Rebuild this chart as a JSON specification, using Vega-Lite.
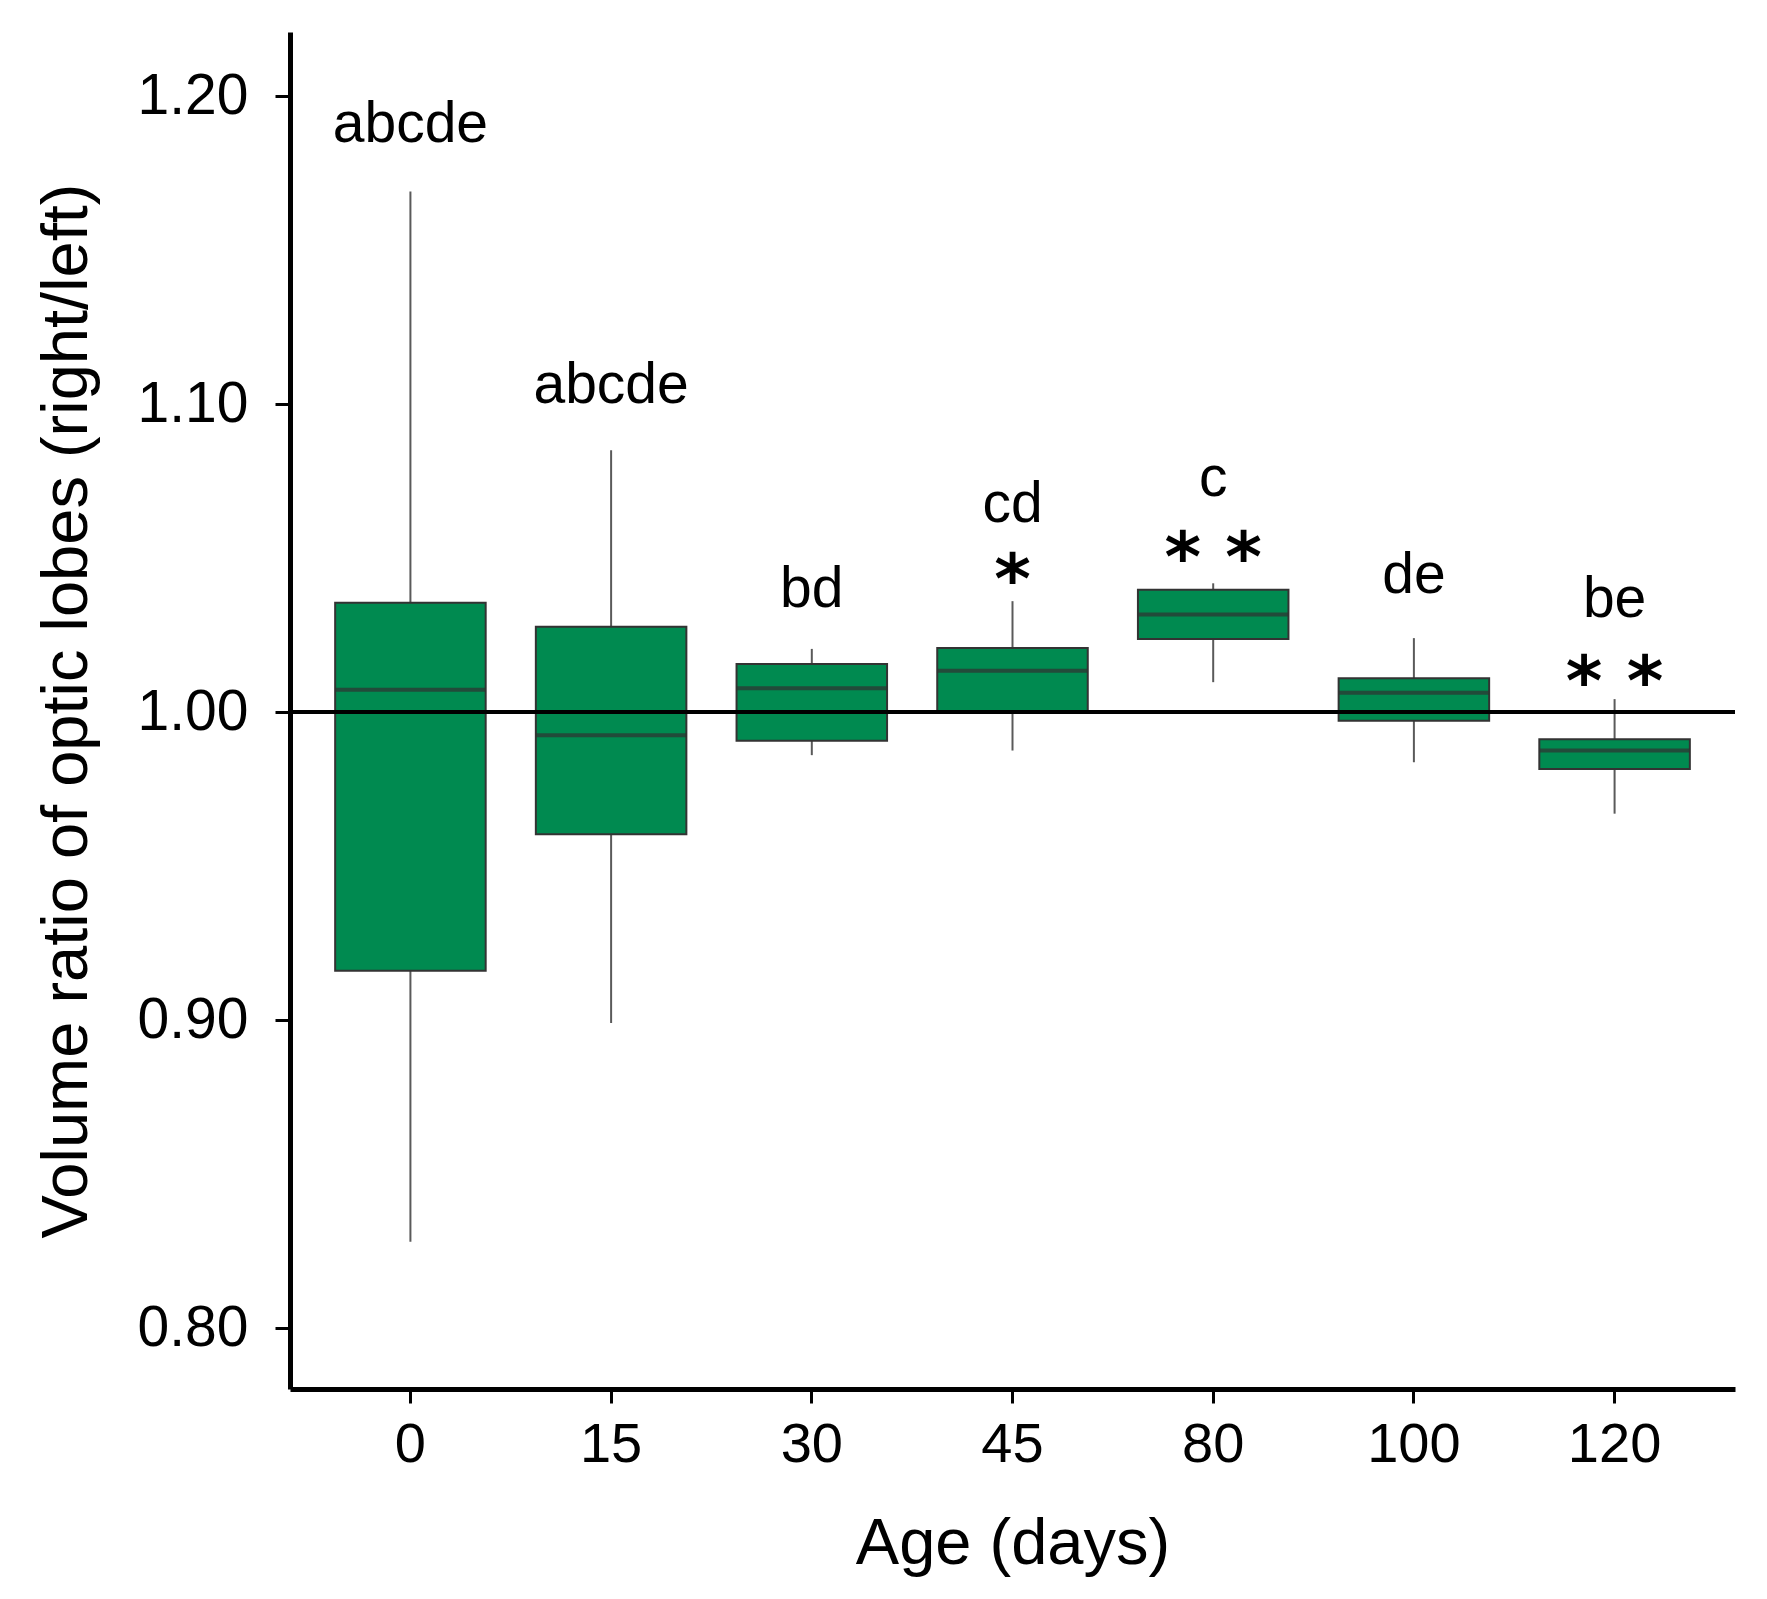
{
  "$schema": "https://vega.github.io/schema/vega-lite/v6.json",
  "width": 1445,
  "height": 1357,
  "autosize": {"type": "none"},
  "padding": {"left": 290, "top": 32, "right": 32, "bottom": 210},
  "background": "white",
  "config": {
    "view": {"stroke": null},
    "font": "Liberation Sans",
    "axis": {"grid": false, "domainColor": "black", "tickColor": "black", "labelColor": "black", "titleColor": "black", "labelFont": "Liberation Sans", "titleFont": "Liberation Sans", "titleFontWeight": "normal"}
  },
  "data": {
    "values": [
      {"age": "0", "ymin": 0.828, "lower": 0.916, "median": 1.0072, "upper": 1.0355, "ymax": 1.169, "letters": "abcde", "ly": 1.1851, "stars": "", "sy": null},
      {"age": "15", "ymin": 0.899, "lower": 0.9603, "median": 0.9925, "upper": 1.0277, "ymax": 1.085, "letters": "abcde", "ly": 1.1005, "stars": "", "sy": null},
      {"age": "30", "ymin": 0.986, "lower": 0.9907, "median": 1.0077, "upper": 1.0156, "ymax": 1.0205, "letters": "bd", "ly": 1.034, "stars": "", "sy": null},
      {"age": "45", "ymin": 0.9875, "lower": 1.0003, "median": 1.0134, "upper": 1.0208, "ymax": 1.036, "letters": "cd", "ly": 1.0617, "stars": "*", "sy": 1.0353},
      {"age": "80", "ymin": 1.0097, "lower": 1.0237, "median": 1.0317, "upper": 1.0397, "ymax": 1.0418, "letters": "c", "ly": 1.0703, "stars": "* *", "sy": 1.0426},
      {"age": "100", "ymin": 0.9837, "lower": 0.9972, "median": 1.0063, "upper": 1.011, "ymax": 1.024, "letters": "de", "ly": 1.0387, "stars": "", "sy": null},
      {"age": "120", "ymin": 0.967, "lower": 0.9815, "median": 0.9875, "upper": 0.9912, "ymax": 1.0042, "letters": "be", "ly": 1.031, "stars": "* *", "sy": 1.0023}
    ]
  },
  "encoding": {
    "x": {
      "field": "age", "type": "ordinal", "sort": null,
      "scale": {"paddingInner": 0, "paddingOuter": 0.1},
      "axis": {"title": "Age (days)", "labelAngle": 0, "labelFontSize": 56, "titleFontSize": 65, "tickSize": 14, "tickWidth": 3, "domainWidth": 5, "labelPadding": 14, "titlePadding": 40}
    }
  },
  "layer": [
    {
      "mark": {"type": "rule", "color": "#5a5a5a", "strokeWidth": 2},
      "encoding": {
        "y": {"field": "ymin", "type": "quantitative", "scale": {"domain": [0.7802, 1.2208], "nice": false, "zero": false},
          "axis": {"title": "Volume ratio of optic lobes (right/left)", "values": [0.8, 0.9, 1.0, 1.1, 1.2], "format": ".2f", "labelFontSize": 57, "titleFontSize": 65, "tickSize": 15, "tickWidth": 3, "domainWidth": 5, "labelPadding": 27, "titlePadding": 37}},
        "y2": {"field": "ymax"}
      }
    },
    {
      "mark": {"type": "bar", "fill": "#008a50", "stroke": "#333333", "strokeWidth": 2, "width": {"band": 0.75}},
      "encoding": {
        "y": {"field": "lower", "type": "quantitative"},
        "y2": {"field": "upper"}
      }
    },
    {
      "mark": {"type": "tick", "color": "#303030", "thickness": 4, "size": 150},
      "encoding": {
        "y": {"field": "median", "type": "quantitative"}
      }
    },
    {
      "mark": {"type": "rule", "color": "black", "strokeWidth": 3.5},
      "encoding": {"y": {"datum": 1.0}, "x": null}
    },
    {
      "mark": {"type": "text", "fontSize": 57, "color": "black", "baseline": "alphabetic", "align": "center"},
      "encoding": {
        "y": {"field": "ly", "type": "quantitative"},
        "text": {"field": "letters"}
      }
    },
    {
      "transform": [{"filter": "datum.stars != ''"}],
      "mark": {"type": "text", "font": "DejaVu Sans", "fontSize": 70, "fontWeight": "bold", "color": "black", "baseline": "alphabetic", "align": "center"},
      "encoding": {
        "y": {"field": "sy", "type": "quantitative"},
        "text": {"field": "stars"}
      }
    }
  ]
}
